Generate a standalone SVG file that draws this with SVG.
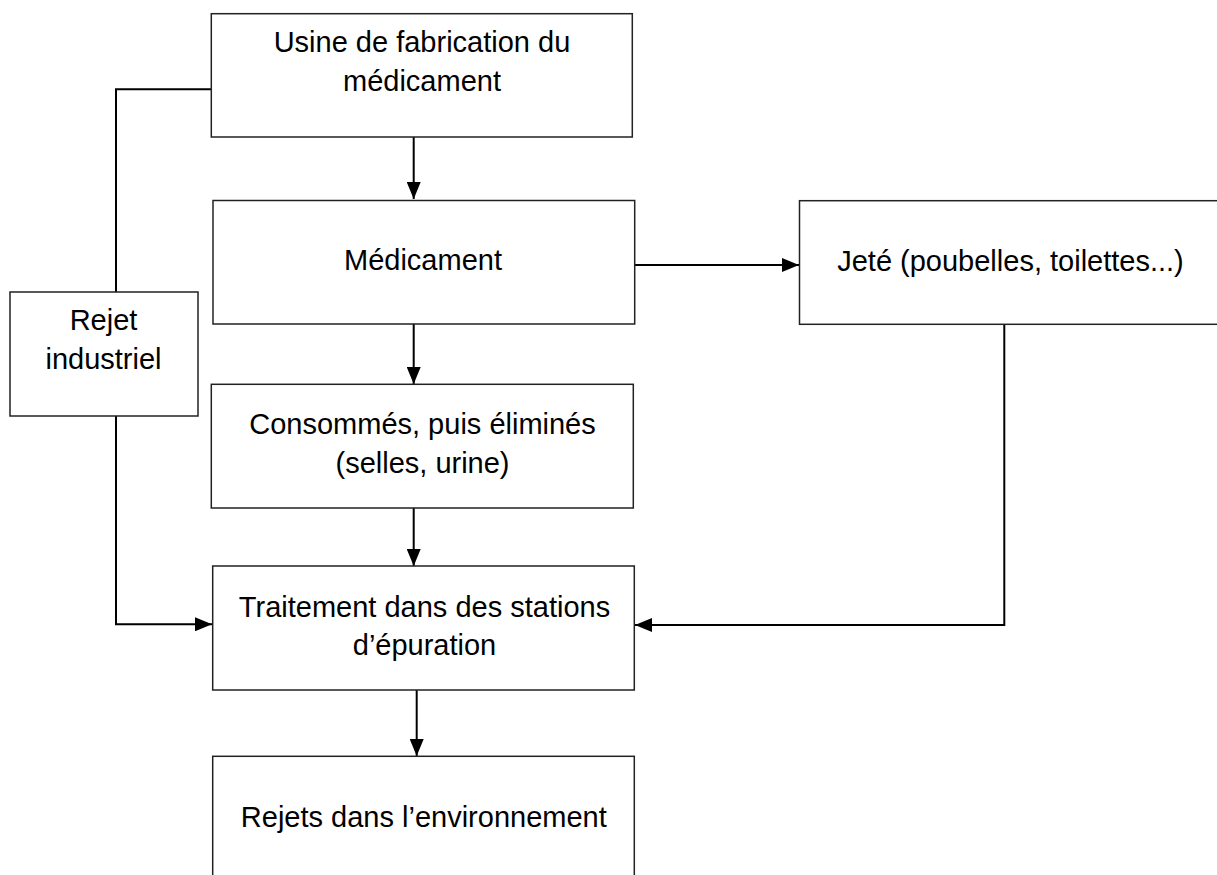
<svg xmlns="http://www.w3.org/2000/svg" width="1217" height="875" viewBox="0 0 1217 875">
<defs>
<marker id="arr" markerUnits="userSpaceOnUse" markerWidth="17" markerHeight="14" refX="17" refY="7" orient="auto">
<path d="M0,0 L17,7 L0,14 z" fill="#000"/>
</marker>
<style>
.box{fill:#fff;stroke:#222;stroke-width:1.5}
.lbl{font-family:"Liberation Sans",Arial,sans-serif;font-size:29px;fill:#000;text-anchor:middle}
.con{fill:none;stroke:#000;stroke-width:2}
</style>
</defs>
<rect width="1217" height="875" fill="#fff"/>
<g id="connectors">
<path class="con" d="M413.7,137 V199" marker-end="url(#arr)"/>
<path class="con" d="M413.7,324 V384" marker-end="url(#arr)"/>
<path class="con" d="M634,265 H799" marker-end="url(#arr)"/>
<path class="con" d="M413.7,508 V566" marker-end="url(#arr)"/>
<path class="con" d="M416.7,690 V756" marker-end="url(#arr)"/>
<path class="con" d="M211,89.3 H116 V292"/>
<path class="con" d="M116,416 V624.3 H212" marker-end="url(#arr)"/>
<path class="con" d="M1004.3,324 V625 H635" marker-end="url(#arr)"/>
</g>
<g id="usine">
<rect class="box" x="211.3" y="13.7" width="421" height="123.3"/>
<text class="lbl" x="422" y="52">Usine de fabrication du</text>
<text class="lbl" x="422" y="91">médicament</text>
</g>
<g id="medicament">
<rect class="box" x="213" y="200.5" width="421.7" height="123.5"/>
<text class="lbl" x="423" y="270">Médicament</text>
</g>
<g id="jete">
<rect class="box" x="799.5" y="200.7" width="430" height="123.6"/>
<text class="lbl" x="1010.5" y="270.7">Jeté (poubelles, toilettes...)</text>
</g>
<g id="rejet-industriel">
<rect class="box" x="10" y="292" width="188" height="124"/>
<text class="lbl" x="103.5" y="330">Rejet</text>
<text class="lbl" x="103.5" y="368.7">industriel</text>
</g>
<g id="consommes">
<rect class="box" x="211.3" y="384.3" width="422" height="123.7"/>
<text class="lbl" x="422.5" y="434">Consommés, puis éliminés</text>
<text class="lbl" x="422.5" y="472.7">(selles, urine)</text>
</g>
<g id="traitement">
<rect class="box" x="212.7" y="566" width="421.6" height="124"/>
<text class="lbl" x="424.5" y="616.7">Traitement dans des stations</text>
<text class="lbl" x="424.5" y="655">d’épuration</text>
</g>
<g id="rejets-env">
<rect class="box" x="212.7" y="756.3" width="421.6" height="130"/>
<text class="lbl" x="423.8" y="826.7">Rejets dans l’environnement</text>
</g>
</svg>
